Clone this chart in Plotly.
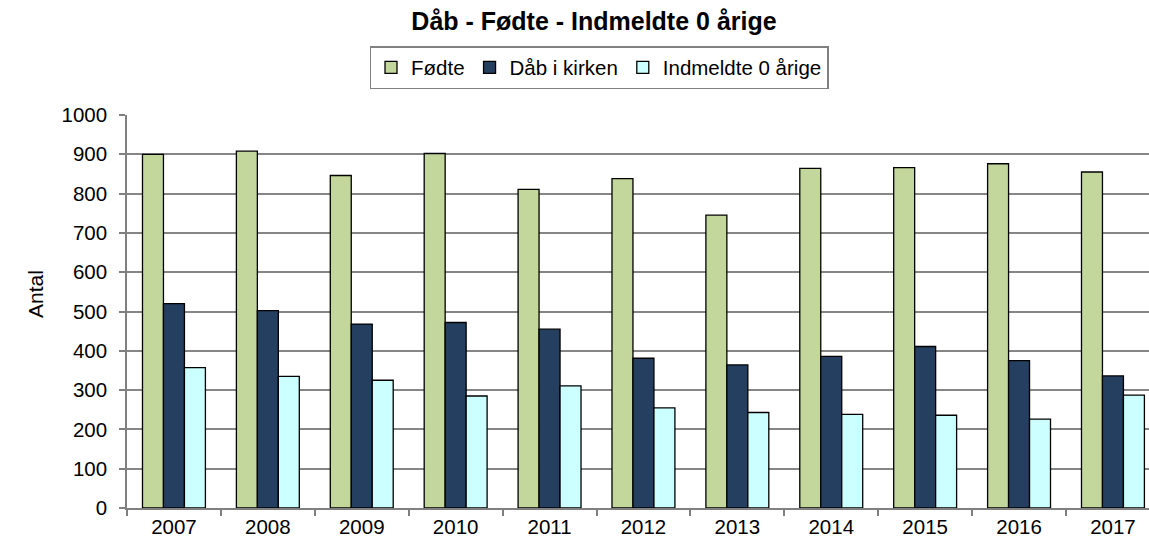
import plotly.graph_objects as go

# Årstal og antal pr. serie
years = ["2007", "2008", "2009", "2010", "2011", "2012",
         "2013", "2014", "2015", "2016", "2017"]
foedte = [900, 908, 846, 902, 811, 838, 745, 864, 866, 876, 855]
daab_i_kirken = [520, 502, 468, 472, 455, 381, 364, 386, 411, 375, 336]
indmeldte_0 = [357, 335, 325, 285, 311, 255, 243, 238, 236, 226, 287]

series = [
    ("Fødte", foedte, "#C3D69B"),
    ("Dåb i kirken", daab_i_kirken, "#243F60"),
    ("Indmeldte 0 årige", indmeldte_0, "#CCFFFF"),
]

FONT = "Liberation Sans, Arial, sans-serif"
W, H = 1149, 542
M_L, M_R, M_T, M_B = 127, 0, 115, 34
PW, PH = W - M_L - M_R, H - M_T - M_B

fig = go.Figure()
for name, values, color in series:
    fig.add_trace(go.Bar(
        x=years, y=values, name=name,
        marker=dict(color=color, line=dict(color="#000000", width=1.3)),
    ))

# the x range is cut on the right so each category keeps its width
cat_px = 93.9
x_hi = -0.5 + PW / cat_px

fig.update_layout(
    width=W, height=H,
    margin=dict(l=M_L, r=M_R, t=M_T, b=M_B, pad=0),
    paper_bgcolor="white", plot_bgcolor="white",
    font=dict(family=FONT, size=20, color="#000000"),
    barmode="group", bargap=0.33, bargroupgap=0,
    title=dict(
        text="<b>Dåb - Fødte - Indmeldte 0 årige</b>",
        x=594 / W, xref="container", xanchor="center",
        y=1 - 21 / H, yref="container", yanchor="middle",
        font=dict(family=FONT, size=25, color="#000000"),
    ),
    legend=dict(
        orientation="h",
        x=(599 - M_L) / PW, xanchor="center",
        y=1 + (H - M_B - 46 - PH) / PH, yanchor="top",
        bgcolor="white", bordercolor="#808080", borderwidth=1.5,
        font=dict(family=FONT, size=20.5, color="#000000"),
        itemwidth=30, traceorder="normal",
    ),
    xaxis=dict(
        type="category", range=[-0.5, x_hi],
        showline=True, linecolor="#808080", linewidth=1.5,
        ticks="outside", tickson="boundaries", ticklen=6,
        tickcolor="#808080", tickwidth=1.5,
        showgrid=False, tickfont=dict(size=20.5),
    ),
    yaxis=dict(
        range=[0, 1000], dtick=100, tick0=0,
        showline=True, linecolor="#808080", linewidth=1.5,
        ticks="outside", ticklen=6, tickcolor="#808080", tickwidth=1.5,
        showgrid=True, gridcolor="#868686", gridwidth=1.5,
        zeroline=False, tickfont=dict(size=20.5),
        ticklabelstandoff=8,
    ),
    annotations=[dict(
        text="Antal", textangle=-90,
        xref="paper", x=(35 - M_L) / PW, xanchor="center",
        yref="paper", y=(H - M_B - 294) / PH, yanchor="middle",
        showarrow=False, font=dict(family=FONT, size=21, color="#000000"),
    )],
)

fig.write_html("out.html")
